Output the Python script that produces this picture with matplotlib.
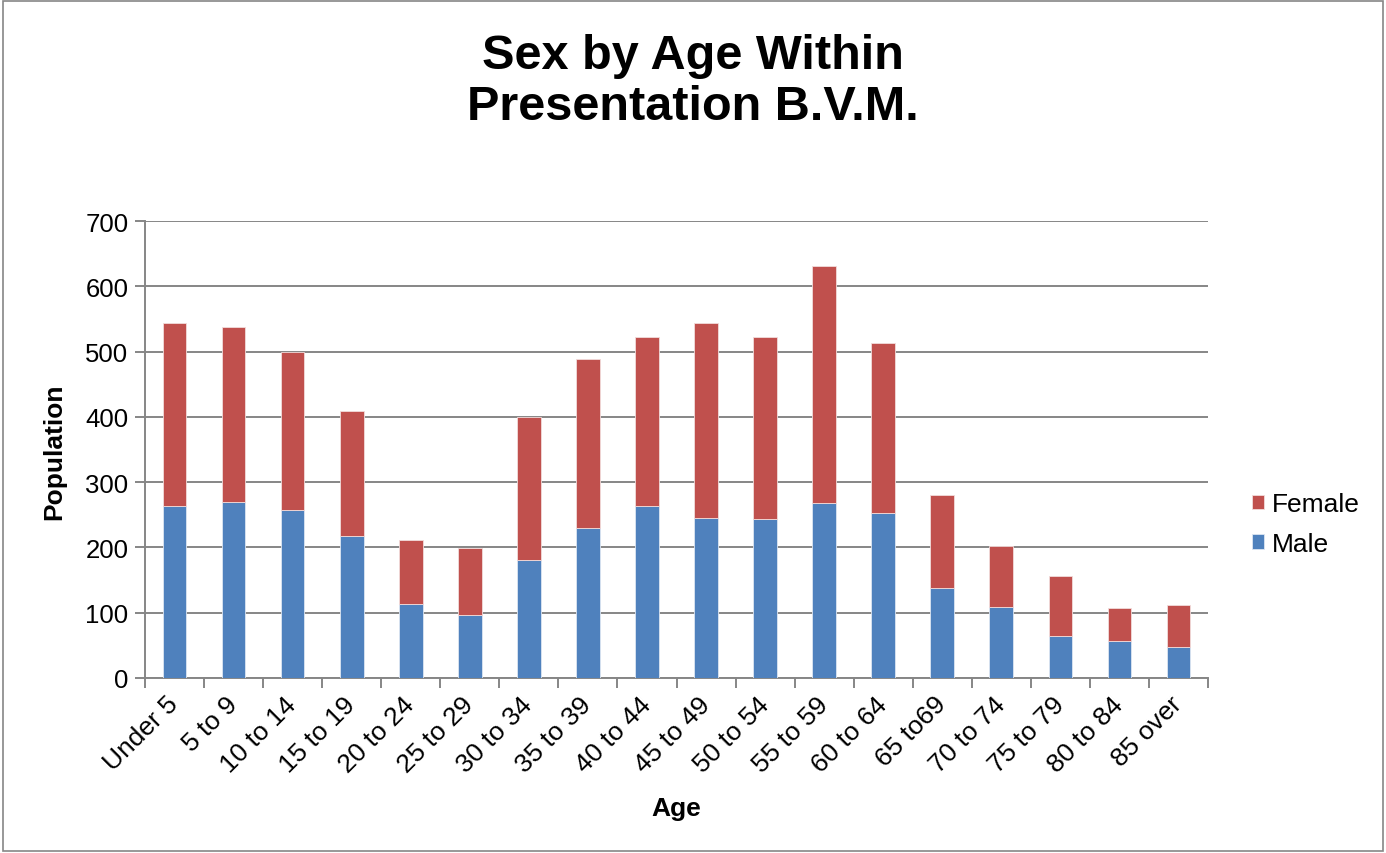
import matplotlib
matplotlib.use("Agg")
import matplotlib.pyplot as plt
from matplotlib.patches import Rectangle
import numpy as np

plt.rcParams['font.family'] = ['Liberation Sans', 'DejaVu Sans']

categories = ["Under 5", "5 to 9", "10 to 14", "15 to 19", "20 to 24", "25 to 29",
              "30 to 34", "35 to 39", "40 to 44", "45 to 49", "50 to 54", "55 to 59",
              "60 to 64", "65 to69", "70 to 74", "75 to 79", "80 to 84", "85 over"]
male = [264, 269, 257, 217, 113, 96, 180, 229, 264, 245, 244, 268, 252, 138, 109, 65, 56, 48]
female = [280, 268, 243, 192, 99, 103, 220, 259, 258, 298, 278, 363, 261, 142, 93, 92, 51, 64]
yticks = [0, 100, 200, 300, 400, 500, 600, 700]

blue = "#4F81BD"
red = "#C0504D"
grid = "#868686"

fig = plt.figure(figsize=(13.86, 8.54), dpi=100)
fig.patches.append(Rectangle((0.002, 0.002), 0.996, 0.996, transform=fig.transFigure,
                             fill=False, edgecolor="#868686", linewidth=1.2))
ax = fig.add_axes([145/1386, 1-679/854, (1208-145)/1386, (679-222)/854])

x = np.arange(len(categories))
ax.bar(x, male, width=0.4, color=blue, edgecolor="#dce6f2", linewidth=0.6, label="Male", zorder=3)
ax.bar(x, female, width=0.4, bottom=male, color=red, edgecolor="#f2dcdb", linewidth=0.6,
       label="Female", zorder=3)

ax.set_xlim(-0.5, len(categories) - 0.5)
ax.set_ylim(0, 700)
ax.set_yticks(yticks)
ax.yaxis.grid(True, color=grid, linewidth=1.4, zorder=0)
ax.set_axisbelow(True)

ax.set_xticks(np.arange(len(categories) + 1) - 0.5)
ax.set_xticklabels([])
ax.set_xticks(x, minor=True)
ax.set_xticklabels(categories, minor=True, rotation=45, ha="right", va="center",
                   rotation_mode="anchor", fontsize=19)
ax.tick_params(axis="x", which="minor", length=0, pad=16)
ax.tick_params(axis="x", which="major", length=7, color=grid, width=1.4)
ax.tick_params(axis="y", length=7, color=grid, width=1.4, labelsize=18.5, pad=5)

for s in ["top", "right"]:
    ax.spines[s].set_visible(False)
for s in ["left", "bottom"]:
    ax.spines[s].set_color(grid)
    ax.spines[s].set_linewidth(1.4)

ax.set_xlabel("Age", fontsize=19, fontweight="bold")
ax.xaxis.set_label_coords(0.4995, (679-797)/457)
ax.set_ylabel("Population", fontsize=19, fontweight="bold")
ax.yaxis.set_label_coords((66-145)/1063, 0.497)

fig.text(0.5, 1-82/854, "Sex by Age Within\nPresentation B.V.M.", ha="center", va="center",
         fontsize=35, fontweight="bold", linespacing=1.18)

handles, labels = ax.get_legend_handles_labels()
fig.legend(handles[::-1], labels[::-1], loc="center left", bbox_to_anchor=(1228/1386, 1-525/854),
           frameon=False, fontsize=19, handlelength=0.45, handleheight=0.45, handletextpad=0.3,
           labelspacing=0.6)

fig.savefig("out.png", dpi=100)
